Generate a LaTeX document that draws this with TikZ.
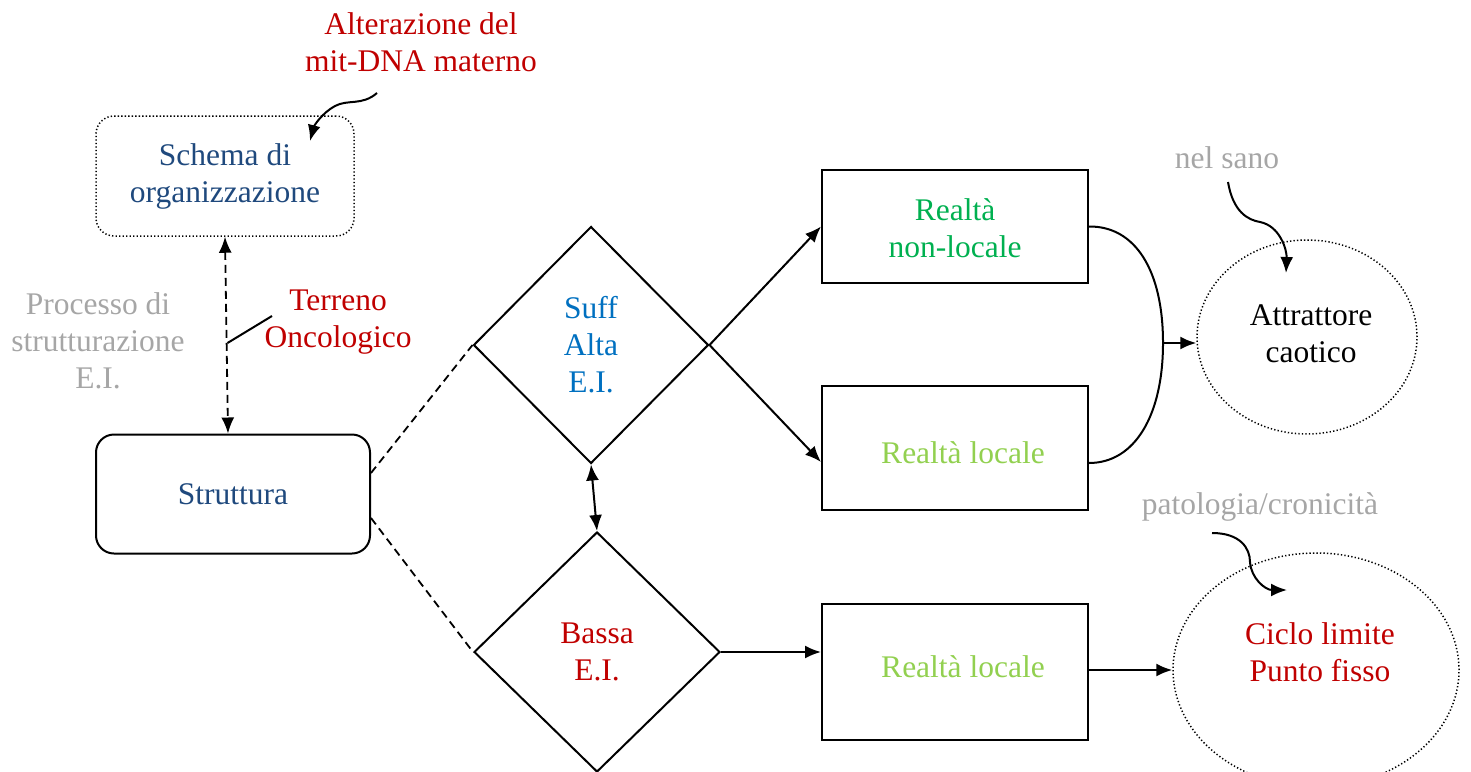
\documentclass[tikz,border=0pt]{standalone}
\usepackage{fontspec}
\setmainfont{Liberation Serif}
\usetikzlibrary{shapes.geometric,arrows.meta,calc}
\definecolor{dblue}{HTML}{1F497D}
\definecolor{dred}{HTML}{C00000}
\definecolor{lgray}{HTML}{A6A6A6}
\definecolor{mblue}{HTML}{0070C0}
\definecolor{mgreen}{HTML}{00B050}
\definecolor{lgreen}{HTML}{92D050}
\begin{document}
\begin{tikzpicture}[x=1pt,y=-1pt,
  txt/.style={align=center,font=\fontsize{31.5}{37}\selectfont,inner sep=0pt},
  sol/.style={line width=2pt},
  dots/.style={line width=1.5pt,dash pattern=on 1.3pt off 2.2pt},
  dsh/.style={line width=1.8pt,dash pattern=on 8pt off 5pt},
  rbox/.style={draw,sol,rounded corners=18pt,inner sep=0pt},
  sbox/.style={draw,sol,inner sep=0pt,minimum width=266pt},
  dia/.style={draw,sol,diamond,inner sep=0pt,align=center,font=\fontsize{31.5}{37}\selectfont},
  ell/.style={draw,dots,ellipse,inner sep=0pt},
  >={Latex[length=16pt,width=13pt]}]
\useasboundingbox (0,0) rectangle (1471,771);

% boxes
\node[rbox,dots,minimum width=258pt,minimum height=120pt,txt,text=dblue] (s) at (225,176) {Schema di\\organizzazione};
\node[rbox,minimum width=274pt,minimum height=119pt,txt,text=dblue] (st) at (233,494) {Struttura};

\node[dia,minimum width=235pt,minimum height=237pt,text=mblue] (d1) at (591,345) {Suff\\Alta\\E.I.};
\node[dia,minimum width=246pt,minimum height=240pt,text=dred] (d2) at (597,652) {Bassa\\E.I.};

\node[sbox,minimum height=113pt] (r1) at (955,226.5) {};
\node[sbox,minimum height=124pt] (r2) at (955,448) {};
\node[sbox,minimum height=136pt] (r3) at (955,672) {};
\node[txt,text=mgreen] (r1t) at (955,228) {Realtà\\non-locale};
\node[txt,text=lgreen] (r2t) at (963,453) {Realtà locale};
\node[txt,text=lgreen] (r3t) at (963,667) {Realtà locale};

\node[ell,minimum width=220pt,minimum height=194pt] (e1) at (1307,337) {};
\node[txt] (e1t) at (1311,334) {Attrattore\\caotico};
\node[ell,minimum width=286pt,minimum height=234pt] (e2) at (1316,670) {};
\node[txt,text=dred] (e2t) at (1320,652) {Ciclo limite\\Punto fisso};

% free texts
\node[txt,text=dred] (alt) at (421,42) {Alterazione del\\mit-DNA materno};
\node[txt,text=lgray] (proc) at (98,341) {Processo di\\strutturazione\\E.I.};
\node[txt,text=dred] (ter) at (338,322) {Terreno\\Oncologico};
\node[txt,text=lgray] (ns) at (1227,158) {nel sano};
\node[txt,text=lgray] (pat) at (1260,507) {patologia/cronicità};

% connectors
\draw[dsh,<->] (s.south) -- ([xshift=-5pt]st.north);
\coordinate (t1) at (227.5,343);
\coordinate (t2) at (272,316);
\draw[sol] (t1) -- (t2);

\draw[dsh] ([yshift=21pt]st.east) -- (d1.west);
\draw[dsh] ([yshift=-24pt]st.east) -- (d2.west);
\draw[sol,<->] (d1.south) -- (d2.north);

\draw[sol,->] (d1.east) -- (r1.west);
\draw[sol,->] (d1.east) -- ([yshift=-14pt]r2.west);
\draw[sol,->] (d2.east) -- (d2.east -| r3.west);

\coordinate (m) at (1163,343);
\draw[sol] (r1.east) .. controls (1135,226) and (1163,270) .. (m)
  .. controls (1163,415) and (1135,463) .. ([yshift=-15pt]r2.east);
\draw[sol,->] (m) -- (m -| e1.west);
\draw[sol,->] (e2.west -| r3.east) -- (e2.west);

% curved annotation arrows
\coordinate (a1) at (377,93);
\coordinate (a2) at (310,141);
\draw[sol,->] (a1) .. controls (362,106) and (348,99) .. (335,106)
  .. controls (322,113) and (314,126) .. (a2);
\coordinate (n1) at (1228,182);
\coordinate (n2) at (1286,273);
\draw[sol,->] (n1) .. controls (1233,212) and (1248,220) .. (1260,222)
  .. controls (1280,226) and (1287,250) .. (n2);
\coordinate (p1) at (1212,533);
\coordinate (p2) at (1287,590);
\draw[sol,->] (p1) .. controls (1240,533) and (1250,548) .. (1250,562)
  .. controls (1251,578) and (1265,590) .. (p2);
\end{tikzpicture}
\end{document}
